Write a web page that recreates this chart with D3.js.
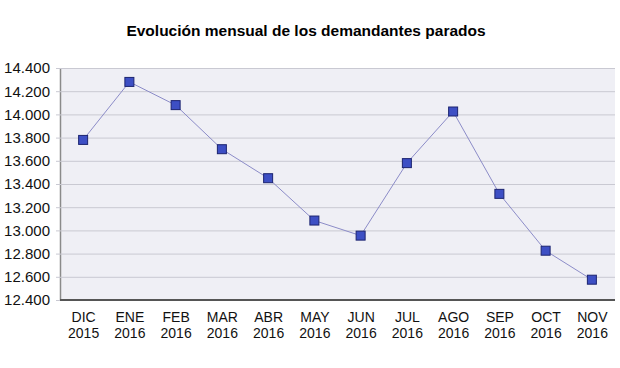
<!DOCTYPE html>
<html><head><meta charset="utf-8">
<script src="https://cdn.jsdelivr.net/npm/d3@7"></script>
<style>body{margin:0;background:#fff}svg{display:block}</style>
</head><body>
<svg id="c" width="620" height="368"></svg>
<script>
const months = ["DIC","ENE","FEB","MAR","ABR","MAY","JUN","JUL","AGO","SEP","OCT","NOV"];
const years = ["2015","2016","2016","2016","2016","2016","2016","2016","2016","2016","2016","2016"];
const values = [13780,14280,14080,13700,13450,13085,12955,13580,14025,13315,12825,12575];
const yTicks = [12400,12600,12800,13000,13200,13400,13600,13800,14000,14200,14400];
const title = "Evolución mensual de los demandantes parados";

const svg = d3.select("#c");
const m = {l:60, r:5, t:68, b:68};
const W = 620, H = 368;
const x = d3.scalePoint().domain(d3.range(months.length)).range([m.l, W-m.r]).padding(0.5);
const y = d3.scaleLinear().domain([12400,14400]).range([300, m.t]);
const fmt = v => d3.format(",")(v).replace(/,/g,".");
const font = "Liberation Sans, Arial, sans-serif";

svg.append("text").attr("x",306).attr("y",36).attr("text-anchor","middle")
  .attr("font-family",font).attr("font-weight","bold").attr("font-size",15.5).attr("fill","#000").text(title);

svg.append("rect").attr("x",m.l).attr("y",y(14400)).attr("width",W-m.r-m.l).attr("height",y(12400)-y(14400)).attr("fill","#efeff5");

const ya = svg.append("g").attr("transform",`translate(${m.l},0)`)
  .call(d3.axisLeft(y).tickValues(yTicks).tickFormat(fmt).tickSize(-(W-m.r-m.l)).tickSizeOuter(0).tickPadding(10));
ya.select(".domain").attr("stroke","#8a8a8a").attr("stroke-width",1.5);
ya.selectAll(".tick line").attr("stroke","#c9c9d2").attr("x1",-4);
ya.selectAll(".tick text").attr("font-family",font).attr("font-size",15).attr("fill","#111").attr("x",-10);

svg.append("line").attr("x1",m.l).attr("x2",W-m.r).attr("y1",y(12400)).attr("y2",y(12400)).attr("stroke","#555").attr("stroke-width",2);

const xa = svg.append("g").attr("transform",`translate(0,${y(12400)})`)
  .call(d3.axisBottom(x).tickSize(0).tickFormat(""));
xa.select(".domain").remove();
xa.selectAll(".tick").each(function(d){
  const t = d3.select(this).append("text").attr("font-family",font).attr("font-size",14).attr("fill","#111").attr("text-anchor","middle");
  t.append("tspan").attr("x",0).attr("y",22).text(months[d]);
  t.append("tspan").attr("x",0).attr("y",38).text(years[d]);
});

const line = d3.line().x((d,i)=>x(i)).y(d=>y(d));
svg.append("path").datum(values).attr("d",line).attr("fill","none").attr("stroke","#8c8cc8").attr("stroke-width",1);

svg.selectAll("rect.pt").data(values).enter().append("rect").attr("class","pt")
  .attr("x",(d,i)=>x(i)-4.5).attr("y",d=>y(d)-4.5).attr("width",9).attr("height",9)
  .attr("fill","#3d4fc4").attr("stroke","#1c2470").attr("stroke-width",1);
</script>
</body></html>
